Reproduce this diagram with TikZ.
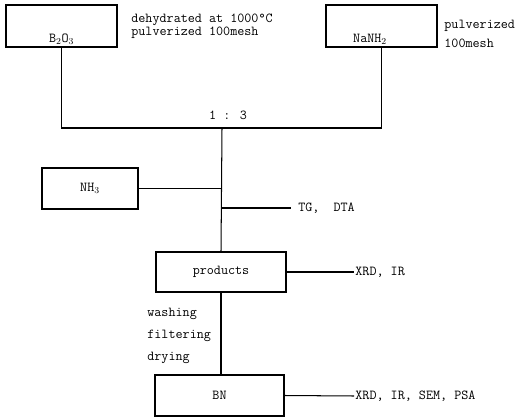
\documentclass[tikz,border=0pt]{standalone}
\usetikzlibrary{positioning}
\def\u{0.875pt}
\begin{document}
\begin{tikzpicture}[x=\u, y=-\u, font=\ttfamily\fontsize{12}{13}\selectfont,
  box/.style={draw, line width=0.9pt, inner sep=0pt},
  link/.style={line width=0.9pt},
  note/.style={anchor=west, inner sep=1pt}]
  \useasboundingbox (0,0) rectangle (521,418);

  % starting materials
  \node[box, minimum width=111*\u, minimum height=42*\u,
    label={[anchor=south, inner sep=2.5pt]south:B$_2$O$_3$}] (b2o3) at (61.5,26) {};
  \node[box, minimum width=111*\u, minimum height=42*\u,
    label={[anchor=south, inner sep=2.5pt, xshift=-10pt]south:NaNH$_2$}] (nanh2) at (381.5,26) {};
  \node[note, align=left, font=\ttfamily\fontsize{12}{9.8}\selectfont] (b2o3txt) at (130,26)
    {dehydrated at 1000\textdegree C\\pulverized 100mesh};
  \node[note, align=left, font=\ttfamily\fontsize{12}{16.5}\selectfont] (nanh2txt) at (443,34)
    {pulverized\\100mesh};

  % mixing 1:3
  \coordinate (mix) at (222,128);
  \draw[link] (b2o3.south) |- (mix) -| (nanh2.south);
  \node (ratio) at (228,115) {1 : 3};

  % reaction under NH3
  \node[box, minimum width=96*\u, minimum height=41*\u] (nh3) at (90,188.5) {NH$_3$};
  \draw[link] (nh3.east) -- (nh3.east -| mix);
  \coordinate (tg) at (222,208);
  \node[note, inner sep=0pt] (tgtxt) at (291,208) {~TG,~~DTA};
  \draw[link] (tg) -- (tgtxt.west);

  % products
  \node[box, minimum width=130*\u, minimum height=40*\u] (products) at (221,272) {products};
  \draw[link] (mix) -- (products.north);
  \node[note] (prodtxt) at (354,272) {XRD, IR};
  \draw[link] (products.east) -- (prodtxt.west);

  % work-up
  \node[note, align=left, font=\ttfamily\fontsize{12}{19.5}\selectfont] (workup) at (146,336)
    {washing\\filtering\\drying};

  % BN
  \node[box, minimum width=129*\u, minimum height=41*\u] (bn) at (219.5,395.5) {BN};
  \draw[link] (products.south) -- (products.south |- bn.north);
  \node[note] (bntxt) at (354,396) {XRD, IR, SEM, PSA};
  \draw[link] (bn.east) -- (bntxt.west);
\end{tikzpicture}
\end{document}
